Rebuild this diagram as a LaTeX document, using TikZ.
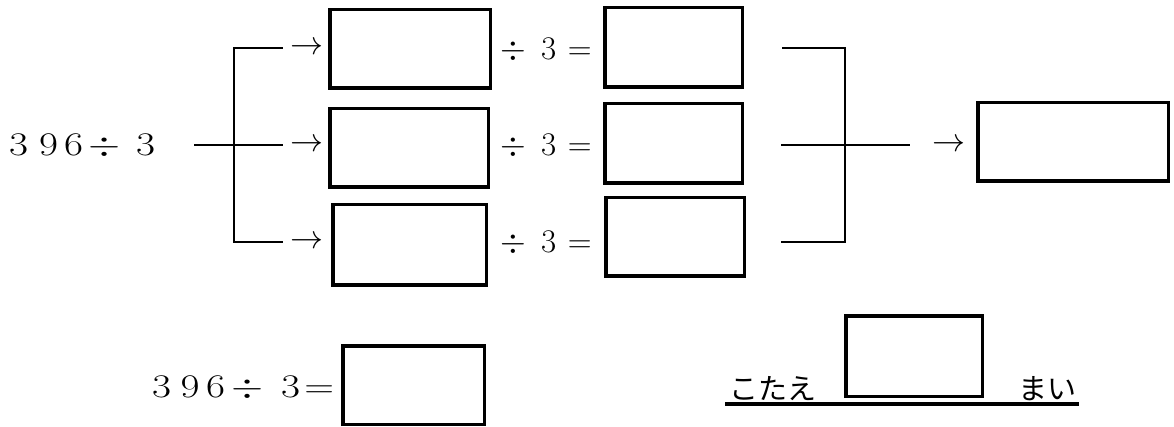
\RequirePackage{fix-cm}
\documentclass[tikz,border=0pt]{standalone}
\usepackage{fontspec}
\usepackage{graphicx}
\newfontfamily\jpfont{Noto Sans CJK JP}
\newcommand\cg[1]{\makebox[0pt]{#1}}
\newcommand\wg[1]{\makebox[0pt]{\scalebox{1.25}[1]{#1}}}
\begin{document}
\begin{tikzpicture}[x=1pt,y=-1pt,
  blank/.style={draw, line width=3.5pt, inner sep=0pt, rectangle},
  link/.style={line width=2.3pt},
  txt/.style={inner sep=0pt, font=\fontsize{33}{40}\selectfont},
  jp/.style={inner sep=0pt, font=\jpfont\fontsize{29}{35}\selectfont},
]
\useasboundingbox (0,0) rectangle (1174,427);

% left expression
\node[txt, anchor=base west] (src) at (18.5,156) {\wg{$3$}\hspace{30pt}\wg{$9$}\hspace{25pt}\wg{$6$}\hspace{30.5pt}\wg{$\div$}\hspace{41.5pt}\wg{$3$}};

% arrows
\node[txt] (a1) at (306.5,48) {$\rightarrow$};
\node[txt] (a2) at (306.5,145) {$\rightarrow$};
\node[txt] (a3) at (306.5,242) {$\rightarrow$};
\node[txt] (a4) at (948.5,145) {$\rightarrow$};

% first column boxes
\node[blank, minimum width=160.5pt, minimum height=78.5pt] (b11) at (410,49) {};
\node[blank, minimum width=158.5pt, minimum height=78.5pt] (b21) at (409,148) {};
\node[blank, minimum width=153.5pt, minimum height=80.5pt] (b31) at (409.5,245) {};

% division texts
\node[txt, anchor=base west] (d1) at (513.5,60) {\cg{$\div$}\hspace{35pt}\cg{$3$}\hspace{31pt}\cg{$=$}};
\node[txt, anchor=base west] (d2) at (513.5,156) {\cg{$\div$}\hspace{35pt}\cg{$3$}\hspace{31pt}\cg{$=$}};
\node[txt, anchor=base west] (d3) at (513.5,253) {\cg{$\div$}\hspace{35pt}\cg{$3$}\hspace{31pt}\cg{$=$}};

% second column boxes
\node[blank, minimum width=137.5pt, minimum height=79.5pt] (b12) at (673.5,47.5) {};
\node[blank, minimum width=137.5pt, minimum height=79.5pt] (b22) at (673.5,143.5) {};
\node[blank, minimum width=138.5pt, minimum height=78.5pt] (b32) at (675,237) {};

% final box
\node[blank, minimum width=190.5pt, minimum height=78.5pt] (fin) at (1073,142) {};

% left bracket
\coordinate (sj) at (194,145);
\coordinate (lt) at (234,48);
\coordinate (lb) at (234,242);
\draw[link] ([xshift=-7pt]a1.west) -- (lt) -- (lb) -- ([xshift=-7pt]a3.west);
\draw[link] (sj) -- ([xshift=-7pt]a2.west);

% right bracket
\coordinate (r1) at (782,48);
\coordinate (r2) at (781,145);
\coordinate (r3) at (781,242);
\coordinate (rt) at (845,48);
\coordinate (rb) at (845,242);
\draw[link] (r1) -- (rt) -- (rb) -- (r3);
\draw[link] (r2) -- ([xshift=-22pt]a4.west);

% bottom equation
\node[txt, anchor=base west] (eq) at (161.5,397.5) {\wg{$3$}\hspace{28.5pt}\wg{$9$}\hspace{25.5pt}\wg{$6$}\hspace{31.5pt}\wg{$\div$}\hspace{43.5pt}\wg{$3$}\hspace{28.5pt}\wg{$=$}};
\node[blank, minimum width=141.5pt, minimum height=78.5pt] (ans) at (413.5,385) {};

% answer line
\node[jp] (kt) at (773,388.5) {こたえ};
\node[blank, minimum width=136.5pt, minimum height=80.5pt] (kot) at (914,356) {};
\node[jp] (mai) at (1047.5,388.5) {まい};
\coordinate (ul1) at (725,404);
\coordinate (ul2) at (1079,404);
\draw[line width=4pt] (ul1) -- (ul2);
\end{tikzpicture}
\end{document}
